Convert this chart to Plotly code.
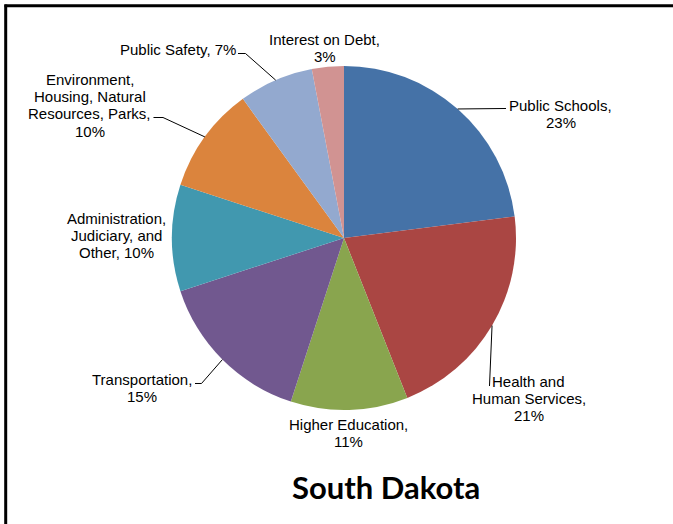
import math
import plotly.graph_objects as go

# ---- data ----
categories = ["Public Schools", "Health and Human Services", "Higher Education",
              "Transportation", "Administration, Judiciary, and Other",
              "Environment, Housing, Natural Resources, Parks",
              "Public Safety", "Interest on Debt"]
values = [23, 21, 11, 15, 10, 10, 7, 3]
label_templates = [
    "Public Schools,<br>{p}%",
    "Health and<br>Human Services,<br>{p}%",
    "Higher Education,<br>{p}%",
    "Transportation,<br>{p}%",
    "Administration,<br>Judiciary, and<br>Other, {p}%",
    "Environment,<br>Housing, Natural<br>Resources, Parks,<br>{p}%",
    "Public Safety, {p}%",
    "Interest on Debt,<br>{p}%",
]
colors = ["#4572A7", "#AA4643", "#89A54E", "#71588F",
          "#4198AF", "#DB843D", "#93A9CF", "#D19392"]
title_text = "South Dakota"

# ---- layout geometry (pixels) ----
W, H = 673, 524
CX, CY, R = 344, 238, 172

def px(x):
    return x / W

def py(y):
    return 1 - y / H

# label anchors: center of first text line (x, y)
label_pos = [(560.5, 105.5), (528.5, 381), (348, 424.5), (141.5, 379),
             (116, 218.5), (89.5, 79.5), (177.5, 49.5), (324.5, 39.5)]
LINE_H = 17.2
# leader-line outer points (None = no leader)
leader_pts = [
    [(506, 108.5)],
    [(489.5, 386)],
    None,
    [(201.5, 383.5), (195, 383.5)],
    None,
    [(163, 117.5), (153.5, 117.5)],
    [(245.5, 53.5), (238, 53.5)],
    None,
]

fig = go.Figure(go.Pie(
    labels=categories, values=values, sort=False, direction="clockwise",
    rotation=0, marker=dict(colors=colors, line=dict(width=0)),
    textinfo="none", hoverinfo="label+percent", showlegend=False,
    domain=dict(x=[px(CX - R), px(CX + R)], y=[py(CY + R), py(CY - R)]),
))

annotations = []
shapes = []
total = sum(values)
cum = 0
for i, v in enumerate(values):
    mid = (cum + v / 2) / total * 2 * math.pi
    cum += v
    ex = CX + R * math.sin(mid)
    ey = CY - R * math.cos(mid)
    text = label_templates[i].format(p=v)
    lx, ly = label_pos[i]
    for j, line in enumerate(text.split("<br>")):
        annotations.append(dict(
            x=px(lx), y=py(ly + j * LINE_H), xref="paper", yref="paper",
            text=line, showarrow=False, xanchor="center", yanchor="middle",
            font=dict(family="Liberation Sans, Arial", size=15, color="#000000"),
        ))
    if leader_pts[i]:
        pts = [(ex, ey)] + leader_pts[i]
        path = "M " + " L ".join(f"{px(a):.5f},{py(b):.5f}" for a, b in pts)
        shapes.append(dict(type="path", path=path, xref="paper", yref="paper",
                           line=dict(color="#000000", width=1)))

annotations.append(dict(
    x=px(386), y=py(487), xref="paper", yref="paper", text="<b>" + title_text + "</b>",
    showarrow=False, xanchor="center", yanchor="middle",
    font=dict(family="Lato, Carlito, Calibri", size=31, color="#000000"),
))

# chart border (top and left visible)
shapes.append(dict(type="line", xref="paper", yref="paper",
                   x0=px(4.5), x1=1.0, y0=py(5.7), y1=py(5.7),
                   line=dict(color="#000000", width=3)))
shapes.append(dict(type="line", xref="paper", yref="paper",
                   x0=px(5.7), x1=px(5.7), y0=py(4.5), y1=0.0,
                   line=dict(color="#000000", width=3)))

fig.update_layout(
    width=W, height=H, margin=dict(l=0, r=0, t=0, b=0),
    paper_bgcolor="white", plot_bgcolor="white",
    annotations=annotations, shapes=shapes,
)

fig.write_html("out.html", config={"displayModeBar": False},
               post_script="document.body.style.margin='0';document.body.style.overflow='hidden';")
